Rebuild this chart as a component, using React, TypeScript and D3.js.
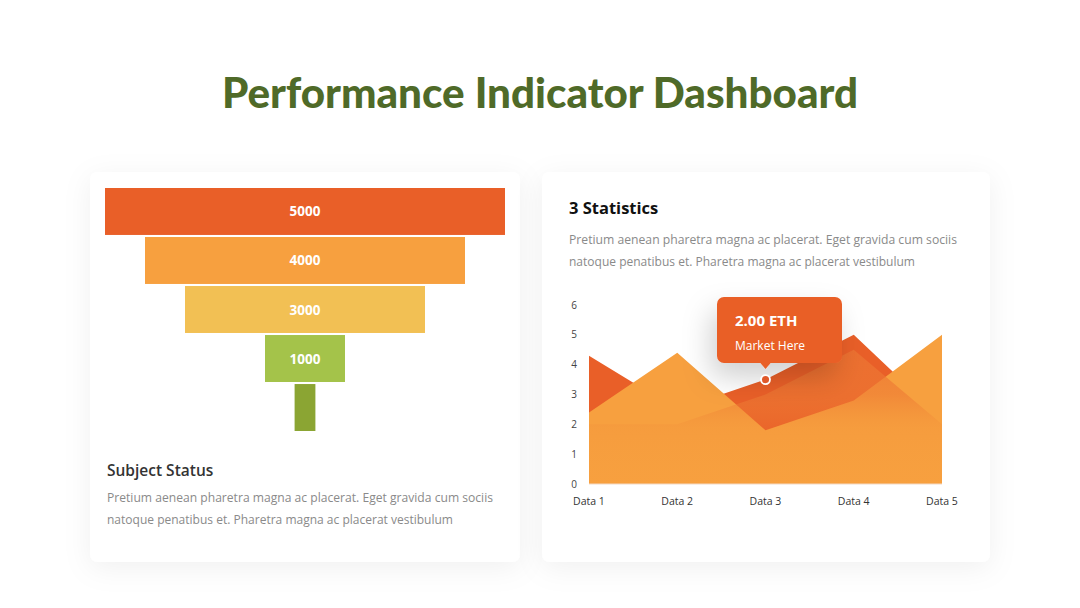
import React from "react";
import * as d3 from "d3";

const funnelLabels = ["5000", "4000", "3000", "1000", ""];
const funnelValues = [5000, 4000, 3000, 1000, 260];
const funnelColors = ["#E95F28", "#F7A03F", "#F2C054", "#A4C34A", "#8BA533"];

const categories = ["Data 1", "Data 2", "Data 3", "Data 4", "Data 5"];
const seriesBack = [4.3, 2.5, 3.5, 5.0, 2.2];
const seriesMid = [2.0, 2.0, 3.0, 4.5, 2.0];
const seriesFront = [2.4, 4.4, 1.8, 2.8, 5.0];
const yTicks = [0, 1, 2, 3, 4, 5, 6];

const paraLine1 = "Pretium aenean pharetra magna ac placerat. Eget gravida cum sociis";
const paraLine2 = "natoque penatibus et. Pharetra magna ac placerat vestibulum";

export default function App() {
  // funnel
  const fx = d3.scaleLinear().domain([0, 5000]).range([0, 400]);
  const fy = d3
    .scaleBand()
    .domain(funnelValues.map((_, i) => String(i)))
    .range([188, 431])
    .paddingInner(0.042);
  const fCenter = 305;

  // area chart
  const x = d3.scalePoint().domain(categories).range([589, 942]);
  const y = d3.scaleLinear().domain([0, 6]).range([484, 305]);
  const area = d3
    .area<number>()
    .x((_, i) => x(categories[i]) as number)
    .y0(y(0))
    .y1((d) => y(d));

  const markerX = x(categories[2]) as number;
  const markerY = y(seriesBack[2]);

  const textFont = "'Open Sans', 'Noto Sans', sans-serif";

  return (
    <svg
      width={1080}
      height={608}
      style={{ position: "absolute", left: 0, top: 0, background: "#fff" }}
    >
      <defs>
        <filter id="cardShadow" x="-20%" y="-20%" width="140%" height="140%">
          <feDropShadow dx="0" dy="6" stdDeviation="14" floodColor="#000" floodOpacity="0.06" />
        </filter>
        <filter id="tipShadow" x="-60%" y="-60%" width="220%" height="260%">
          <feDropShadow dx="-6" dy="14" stdDeviation="14" floodColor="#000" floodOpacity="0.18" />
        </filter>
        <linearGradient
          id="midGrad"
          gradientUnits="userSpaceOnUse"
          x1="0"
          y1={y(5)}
          x2="0"
          y2={y(0)}
        >
          <stop offset="0%" stopColor="#EC7232" stopOpacity="0.85" />
          <stop offset="40%" stopColor="#EE7A34" stopOpacity="0.6" />
          <stop offset="62%" stopColor="#F08A38" stopOpacity="0.18" />
          <stop offset="100%" stopColor="#F49A3D" stopOpacity="0.04" />
        </linearGradient>
      </defs>

      <rect x={0} y={0} width={1080} height={608} fill="#fff" />

      {/* Title */}
      <text
        x={540}
        y={108}
        textAnchor="middle"
        fontFamily="Lato, 'Open Sans', sans-serif"
        fontWeight={900}
        fontSize={42}
        fill="#4F6A28"
        textLength={636}
        lengthAdjust="spacingAndGlyphs"
      >
        Performance Indicator Dashboard
      </text>

      {/* Cards */}
      <rect x={90} y={172} width={430} height={390} rx={8} fill="#fff" filter="url(#cardShadow)" />
      <rect x={542} y={172} width={448} height={390} rx={8} fill="#fff" filter="url(#cardShadow)" />

      {/* Funnel */}
      {funnelValues.map((v, i) => {
        const w = fx(v);
        const top = fy(String(i)) as number;
        const h = fy.bandwidth();
        return (
          <g key={i}>
            <rect x={fCenter - w / 2} y={top} width={w} height={h} fill={funnelColors[i]} />
            {funnelLabels[i] && (
              <text
                x={fCenter}
                y={top + h / 2 + 5}
                textAnchor="middle"
                fontFamily={textFont}
                fontWeight={700}
                fontSize={13.5}
                fill="#fff"
              >
                {funnelLabels[i]}
              </text>
            )}
          </g>
        );
      })}

      <text x={107} y={476} fontFamily={textFont} fontWeight={600} fontSize={15.5} fill="#333">
        Subject Status
      </text>
      <text x={107} y={502} fontFamily={textFont} fontSize={12.5} fill="#8a8a8a" textLength={386} lengthAdjust="spacingAndGlyphs">
        {paraLine1}
      </text>
      <text x={107} y={524} fontFamily={textFont} fontSize={12.5} fill="#8a8a8a" textLength={346} lengthAdjust="spacingAndGlyphs">
        {paraLine2}
      </text>

      {/* Right card text */}
      <text x={569} y={214} fontFamily={textFont} fontWeight={700} fontSize={16.5} fill="#111">
        3 Statistics
      </text>
      <text x={569} y={244} fontFamily={textFont} fontSize={12.5} fill="#8a8a8a" textLength={388} lengthAdjust="spacingAndGlyphs">
        {paraLine1}
      </text>
      <text x={569} y={266} fontFamily={textFont} fontSize={12.5} fill="#8a8a8a" textLength={346} lengthAdjust="spacingAndGlyphs">
        {paraLine2}
      </text>

      {/* Area chart */}
      <path d={area(seriesBack) as string} fill="#E95F28" />
      <path d={area(seriesFront) as string} fill="#F7A03F" />
      <path d={area(seriesMid) as string} fill="url(#midGrad)" />
      <line x1={589} x2={942} y1={y(0)} y2={y(0)} stroke="#f3d9c4" strokeWidth={1} />

      {yTicks.map((t) => (
        <text key={t} x={574} y={y(t) + 3.5} textAnchor="middle" fontFamily={textFont} fontSize={10} fill="#444">
          {t}
        </text>
      ))}
      {categories.map((c) => (
        <text key={c} x={x(c) as number} y={505} textAnchor="middle" fontFamily={textFont} fontSize={10.5} fill="#333">
          {c}
        </text>
      ))}

      {/* Tooltip */}
      <g filter="url(#tipShadow)">
        <rect x={717} y={297} width={125} height={66} rx={7} fill="#E95F28" />
        <path d={`M${markerX - 6},362 L${markerX},369 L${markerX + 6},362 Z`} fill="#E95F28" />
      </g>
      <text x={735} y={326} fontFamily={textFont} fontWeight={700} fontSize={15} fill="#fff">
        2.00 ETH
      </text>
      <text x={735} y={350} fontFamily={textFont} fontSize={12} fill="#fff">
        Market Here
      </text>
      <circle cx={markerX} cy={markerY} r={4.5} fill="#E0592A" stroke="#fff" strokeWidth={1.8} />
    </svg>
  );
}
